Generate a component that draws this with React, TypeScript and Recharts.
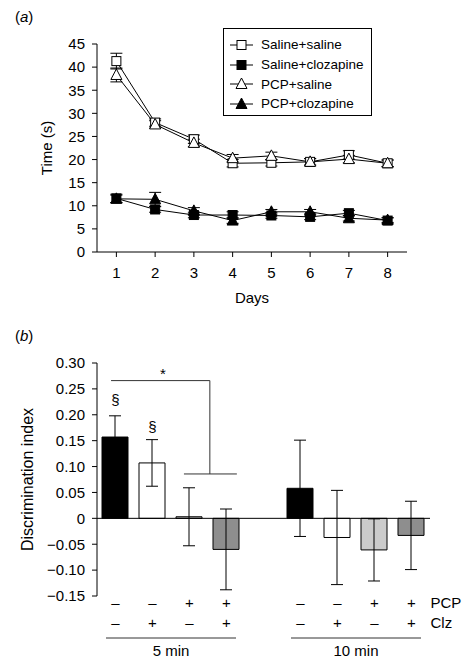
import React from 'react';
import {
  LineChart, Line, BarChart, Bar, Cell, XAxis, YAxis, ErrorBar, Legend,
  ReferenceLine, ReferenceDot,
} from 'recharts';

const FONT = '"Liberation Sans", Arial, Helvetica, sans-serif';

// (a) time to locate platform, per day
const days = [1, 2, 3, 4, 5, 6, 7, 8];
const salineSaline = [41.3, 28.0, 24.4, 19.2, 19.3, 19.5, 21.0, 19.2];
const salineSalineErr = [1.7, 0.8, 0.9, 0.8, 0.7, 0.7, 0.9, 0.7];
const salineClz = [11.6, 9.2, 8.0, 8.0, 7.9, 7.6, 8.4, 6.8];
const salineClzErr = [0.9, 0.6, 0.6, 0.7, 0.6, 0.6, 0.6, 0.6];
const pcpSaline = [38.3, 27.6, 23.6, 20.3, 20.8, 19.5, 20.1, 19.2];
const pcpSalineErr = [1.5, 0.8, 0.8, 0.8, 0.8, 0.7, 0.8, 0.7];
const pcpClz = [11.5, 11.4, 8.9, 6.8, 8.7, 8.7, 7.3, 6.9];
const pcpClzErr = [0.8, 1.5, 0.7, 0.6, 0.5, 0.5, 0.6, 0.5];
const timeTicks = [0, 5, 10, 15, 20, 25, 30, 35, 40, 45];

// (b) discrimination index
const conditionX = [1, 2, 3, 4, 6, 7, 8, 9];
const pcpSign = ['–', '–', '+', '+', '–', '–', '+', '+'];
const clzSign = ['–', '+', '–', '+', '–', '+', '–', '+'];
const rowLabels = ['PCP', 'Clz'];
const discIndex = [0.157, 0.107, 0.003, -0.06, 0.058, -0.037, -0.061, -0.033];
const discErr = [0.041, 0.045, 0.056, 0.078, 0.093, 0.091, 0.06, 0.066];
const barFills = ['#000', '#fff', '#cbcbcb', '#8e8e8e', '#000', '#fff', '#cbcbcb', '#8e8e8e'];
const groupX = [2.5, 7.5];
const groupLabels = ['5 min', '10 min'];
const diTicks = [-0.15, -0.1, -0.05, 0, 0.05, 0.1, 0.15, 0.2, 0.25, 0.3];

// significance marks
const sectionMarks = [{ x: 1, y: 0.229 }, { x: 2, y: 0.177 }];
const starMark = { x: 2.28, y: 0.28 };
const bracket = [
  [{ x: 0.88, y: 0.266 }, { x: 3.55, y: 0.266 }],
  [{ x: 3.55, y: 0.266 }, { x: 3.55, y: 0.0857 }],
  [{ x: 2.85, y: 0.0857 }, { x: 4.28, y: 0.0857 }],
];

const lineData = days.map((d, i) => ({
  day: d,
  ss: salineSaline[i], ssErr: salineSalineErr[i],
  sc: salineClz[i], scErr: salineClzErr[i],
  ps: pcpSaline[i], psErr: pcpSalineErr[i],
  pc: pcpClz[i], pcErr: pcpClzErr[i],
}));

const series = [
  { key: 'ss', err: 'ssErr', name: 'Saline+saline', shape: 'square', filled: false },
  { key: 'sc', err: 'scErr', name: 'Saline+clozapine', shape: 'square', filled: true },
  { key: 'ps', err: 'psErr', name: 'PCP+saline', shape: 'triangle', filled: false },
  { key: 'pc', err: 'pcErr', name: 'PCP+clozapine', shape: 'triangle', filled: true },
];

const barData = conditionX.map((x, i) => ({ x, di: discIndex[i], err: discErr[i] }));

const Marker = ({ cx, cy, shape, filled }: any) => {
  if (cx == null || cy == null) return null;
  const fill = filled ? '#000' : '#fff';
  if (shape === 'square') {
    return <rect x={cx - 4.5} y={cy - 4.5} width={9} height={9} fill={fill} stroke="#000" strokeWidth={1} />;
  }
  return (
    <polygon
      points={`${cx},${cy - 6} ${cx + 5.5},${cy + 4.5} ${cx - 5.5},${cy + 4.5}`}
      fill={fill}
      stroke="#000"
      strokeWidth={1}
    />
  );
};

const LegendBox = () => (
  <div
    style={{
      border: '1px solid #000',
      boxSizing: 'border-box',
      width: 149,
      height: 88,
      paddingTop: 6,
      background: '#fff',
      fontFamily: FONT,
    }}
  >
    {series.map((s) => (
      <div key={s.key} style={{ display: 'flex', alignItems: 'center', height: 19.7 }}>
        <svg width={37} height={14} style={{ flex: 'none' }}>
          <line x1={6} x2={29} y1={7} y2={7} stroke="#000" strokeWidth={1} />
          <Marker cx={17.5} cy={7} shape={s.shape} filled={s.filled} />
        </svg>
        <span style={{ fontSize: 13.5, color: '#000', whiteSpace: 'nowrap' }}>{s.name}</span>
      </div>
    ))}
  </div>
);

const SignTick = ({ x, y, payload }: any) => {
  const i = conditionX.indexOf(payload.value);
  if (i < 0) return null;
  const last = i === conditionX.length - 1;
  return (
    <g fontFamily={FONT} fontSize={15} fill="#000">
      <text x={x} y={y + 12} textAnchor="middle">{pcpSign[i]}</text>
      <text x={x} y={y + 32} textAnchor="middle">{clzSign[i]}</text>
      {last && (
        <>
          <text x={x + 19} y={y + 12}>{rowLabels[0]}</text>
          <text x={x + 19} y={y + 32}>{rowLabels[1]}</text>
        </>
      )}
    </g>
  );
};

const GroupTick = ({ x, y, payload }: any) => {
  const i = groupX.indexOf(payload.value);
  if (i < 0) return null;
  return (
    <g>
      <line x1={x - 65} x2={x + 65} y1={y + 2} y2={y + 2} stroke="#333" strokeWidth={1} />
      <text x={x} y={y + 20} textAnchor="middle" fontFamily={FONT} fontSize={15} fill="#000">
        {groupLabels[i]}
      </text>
    </g>
  );
};

const fmtDi = (v: number) => {
  if (Math.abs(v) < 1e-9) return '0';
  return v < 0 ? `−${Math.abs(v).toFixed(2)}` : v.toFixed(2);
};

const tickStyle = { fill: '#000', fontSize: 15, fontFamily: FONT };

export default function App() {
  return (
    <div style={{ position: 'absolute', left: 0, top: 0, width: 468, height: 666, background: '#fff', fontFamily: FONT }}>
      <div style={{ position: 'absolute', left: 15, top: 8, fontSize: 15 }}>
        (<i>a</i>)
      </div>
      <div style={{ position: 'absolute', left: 15, top: 327, fontSize: 15 }}>
        (<i>b</i>)
      </div>

      <div style={{ position: 'absolute', left: 0, top: 0 }}>
        <LineChart width={468} height={320} data={lineData} margin={{ top: 44, right: 61, left: 0, bottom: 38 }}>
          <XAxis
            dataKey="day"
            type="number"
            domain={[0.5, 8.5]}
            ticks={days}
            interval={0}
            height={30}
            stroke="#000"
            tickSize={5}
            tickMargin={10}
            tick={tickStyle}
            label={{ value: 'Days', position: 'bottom', offset: 10, fill: '#000', fontSize: 15, fontFamily: FONT }}
          />
          <YAxis
            type="number"
            domain={[0, 45]}
            ticks={timeTicks}
            interval={0}
            width={97}
            stroke="#000"
            tickSize={5}
            tickMargin={7}
            tick={tickStyle}
            label={{ value: 'Time (s)', angle: -90, position: 'center', dx: -1.5, fill: '#000', fontSize: 15, fontFamily: FONT }}
          />
          <Legend
            layout="horizontal"
            verticalAlign="middle"
            align="center"
            content={<LegendBox />}
            wrapperStyle={{ left: 223, top: 28, width: 149, height: 88 }}
          />
          {series.map((s) => (
            <Line
              key={s.key}
              dataKey={s.key}
              name={s.name}
              type="linear"
              stroke="#000"
              strokeWidth={1}
              isAnimationActive={false}
              dot={(p: any) => <Marker key={`${s.key}-${p.index}`} cx={p.cx} cy={p.cy} shape={s.shape} filled={s.filled} />}
              activeDot={false}
            >
              <ErrorBar dataKey={s.err} width={6} stroke="#000" strokeWidth={1} direction="y" />
            </Line>
          ))}
        </LineChart>
      </div>

      <div style={{ position: 'absolute', left: 0, top: 330 }}>
        <BarChart width={468} height={336} data={barData} margin={{ top: 33, right: 38, left: 0, bottom: 0 }}>
          <XAxis
            xAxisId="axis0"
            dataKey="x"
            type="number"
            domain={[0.5, 9.5]}
            allowDataOverflow
            ticks={conditionX}
            interval={0}
            height={40}
            axisLine={false}
            tickLine={false}
            tickSize={0}
            tickMargin={0}
            tick={<SignTick />}
          />
          <XAxis
            xAxisId="axis1"
            dataKey="x"
            type="number"
            domain={[0.5, 9.5]}
            allowDataOverflow
            ticks={groupX}
            interval={0}
            height={30}
            axisLine={false}
            tickLine={false}
            tickSize={0}
            tickMargin={0}
            tick={<GroupTick />}
          />
          <YAxis
            type="number"
            domain={[-0.15, 0.3]}
            ticks={diTicks}
            interval={0}
            width={97}
            stroke="#000"
            tickSize={5}
            tickMargin={7}
            tick={tickStyle}
            tickFormatter={fmtDi}
            label={{ value: 'Discrimination index', angle: -90, position: 'center', dx: -21, fill: '#000', fontSize: 16, fontFamily: FONT }}
          />
          <Bar xAxisId="axis0" dataKey="di" barSize={26} stroke="#000" strokeWidth={1} isAnimationActive={false}>
            {barData.map((d, i) => (
              <Cell key={`c-${i}`} fill={barFills[i]} />
            ))}
            <ErrorBar dataKey="err" width={6} stroke="#000" strokeWidth={1} direction="y" />
          </Bar>
          <ReferenceLine xAxisId="axis0" y={0} stroke="#000" strokeWidth={1} />
          {bracket.map((seg, i) => (
            <ReferenceLine key={`b-${i}`} xAxisId="axis0" segment={seg} stroke="#333" strokeWidth={1} />
          ))}
          {sectionMarks.map((m, i) => (
            <ReferenceDot
              key={`s-${i}`}
              xAxisId="axis0"
              x={m.x}
              y={m.y}
              r={0}
              fill="none"
              stroke="none"
              label={{ value: '§', position: 'center', fill: '#000', fontSize: 15, fontFamily: FONT }}
            />
          ))}
          <ReferenceDot
            xAxisId="axis0"
            x={starMark.x}
            y={starMark.y}
            r={0}
            fill="none"
            stroke="none"
            label={{ value: '*', position: 'center', fill: '#000', fontSize: 15, fontFamily: FONT }}
          />
        </BarChart>
      </div>
    </div>
  );
}
